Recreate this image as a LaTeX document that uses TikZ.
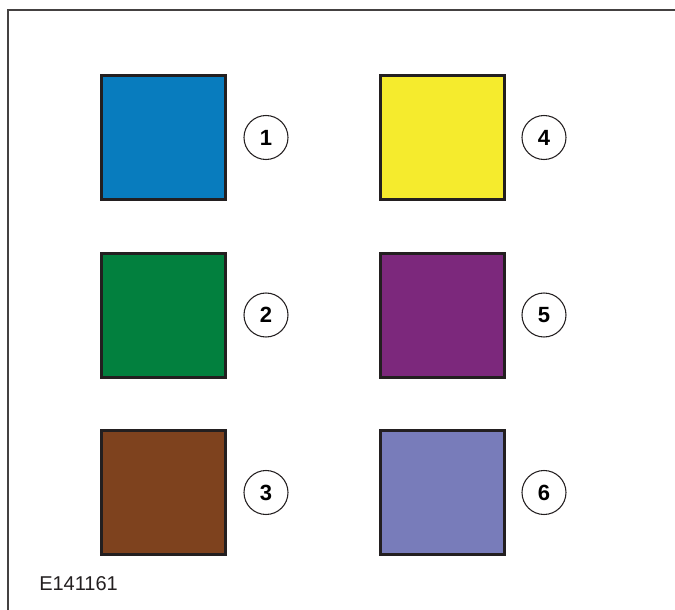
\documentclass[tikz,border=0pt]{standalone}
\usepackage{fontspec}
\setmainfont{Liberation Sans}
\usepackage{xcolor}
\usetikzlibrary{positioning}
\definecolor{swblue}{RGB}{8,124,190}
\definecolor{swgreen}{RGB}{2,128,62}
\definecolor{swbrown}{RGB}{126,66,30}
\definecolor{swyellow}{RGB}{245,235,45}
\definecolor{swpurple}{RGB}{124,40,124}
\definecolor{swlavender}{RGB}{120,124,186}
\definecolor{edge}{RGB}{35,31,32}
\tikzset{
  swatch/.style={draw=edge, rectangle, line width=2.25pt, minimum size=93pt, inner sep=0pt},
  callout/.style={draw=edge, circle, line width=0.8pt, minimum size=33pt, inner sep=0pt, font=\fontsize{16.5}{16.5}\selectfont\bfseries},
  framel/.style={draw=edge!85, line width=1.1pt}
}
\begin{document}
\begin{tikzpicture}[x=0.75pt,y=-0.75pt]
\useasboundingbox (0,0) rectangle (675,610);
\draw[framel] (675,10) -- (8,10) -- (8,610);

\node[swatch,fill=swblue] (blue) at (163.5,137.5) {};
\node[swatch,fill=swgreen] (green) at (163.5,315) {};
\node[swatch,fill=swbrown] (brown) at (163.5,492.5) {};
\node[swatch,fill=swyellow] (yellow) at (442.5,137.5) {};
\node[swatch,fill=swpurple] (purple) at (442.5,315) {};
\node[swatch,fill=swlavender] (lavender) at (442.5,492.5) {};

\node[callout] (n1) at (266,137.5) {1};
\node[callout] (n2) at (266,315) {2};
\node[callout] (n3) at (266,492.5) {3};
\node[callout] (n4) at (544,137.5) {4};
\node[callout] (n5) at (544,315) {5};
\node[callout] (n6) at (544,492.5) {6};

\node[anchor=west,inner sep=0pt,font=\fontsize{15}{15}\selectfont,text=edge] (ref) at (39,584) {E141161};
\end{tikzpicture}
\end{document}
